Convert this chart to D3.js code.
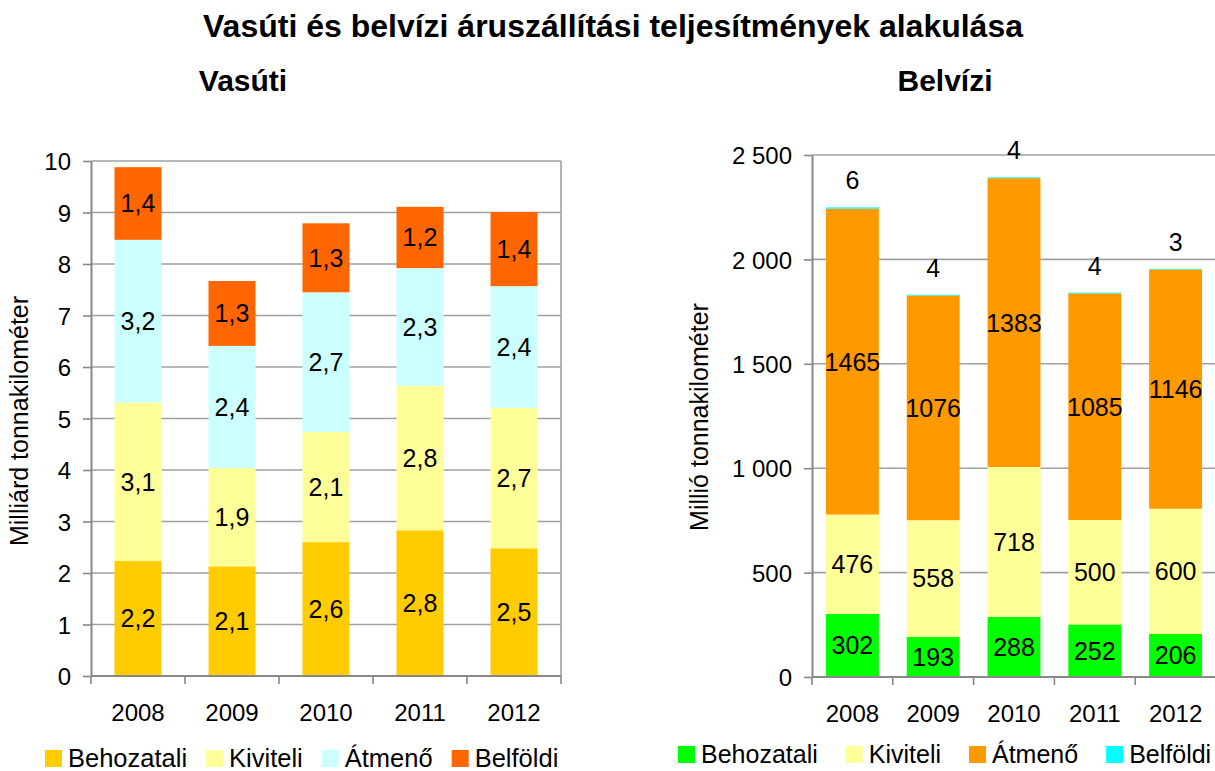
<!DOCTYPE html>
<html>
<head>
<meta charset="utf-8">
<script src="https://cdn.jsdelivr.net/npm/d3@7"></script>
<style>
  html, body { margin: 0; padding: 0; background: #fff; }
  svg { display: block; font-family: "Liberation Sans", Arial, sans-serif; }
</style>
</head>
<body>
<svg id="chart" width="1215" height="771"></svg>
<script>
// ---------- DATA ----------
const years = ["2008", "2009", "2010", "2011", "2012"];
const seriesNames = ["Behozatali", "Kiviteli", "Átmenő", "Belföldi"];

// Vasúti (milliárd tonnakilométer)
const railBehozatali = [2.24, 2.13, 2.60, 2.83, 2.48];
const railKiviteli   = [3.07, 1.91, 2.14, 2.80, 2.73];
const railAtmeno     = [3.16, 2.37, 2.71, 2.29, 2.36];
const railBelfoldi   = [1.41, 1.26, 1.34, 1.19, 1.44];
const railTicks = [0, 1, 2, 3, 4, 5, 6, 7, 8, 9, 10];

// Belvízi (millió tonnakilométer)
const riverBehozatali = [302, 193, 288, 252, 206];
const riverKiviteli   = [476, 558, 718, 500, 600];
const riverAtmeno     = [1465, 1076, 1383, 1085, 1146];
const riverBelfoldi   = [6, 4, 4, 4, 3];
const riverTicks = [0, 500, 1000, 1500, 2000, 2500];

const railColors  = ["#FFCC00", "#FFFF99", "#CCFFFF", "#FF6600"];
const riverColors = ["#00FF00", "#FFFF99", "#FF9900", "#00FFFF"];

const titleText = "Vasúti és belvízi áruszállítási teljesítmények alakulása";
const railTitle = "Vasúti";
const riverTitle = "Belvízi";
const railAxisTitle = "Milliárd tonnakilométer";
const riverAxisTitle = "Millió tonnakilométer";

// ---------- HELPERS ----------
const huLocale = d3.formatLocale({decimal: ",", thousands: "\u00a0", grouping: [3], currency: ["", ""]});
const fmtOneDec = huLocale.format(".1f");
const fmtThousands = huLocale.format(",d");

const svg = d3.select("#chart");
const FONT = "'Liberation Sans', Arial, sans-serif";
const gridColor = "#a0a0a0";
const axisColor = "#888888";

function buildRows(arrs) {
  return years.map((y, i) => {
    const r = {year: y};
    seriesNames.forEach((s, k) => r[s] = arrs[k][i]);
    return r;
  });
}

function drawPanel(cfg) {
  const g = svg.append("g");
  const x = d3.scaleBand().domain(years).range([cfg.left, cfg.right]).padding(0);
  const y = d3.scaleLinear().domain([0, cfg.max]).range([cfg.bottom, cfg.top]);
  const rows = buildRows(cfg.arrays);
  const stacked = d3.stack().keys(seriesNames)(rows);
  const bw = x.bandwidth() * cfg.barFrac;

  // gridlines
  g.append("g").selectAll("line").data(cfg.ticks.filter(t => t > 0)).join("line")
    .attr("x1", cfg.left).attr("x2", cfg.gridRight)
    .attr("y1", d => y(d)).attr("y2", d => y(d))
    .attr("stroke", gridColor).attr("stroke-width", 1.6);

  if (cfg.rightBorder) {
    g.append("line")
      .attr("x1", cfg.right).attr("x2", cfg.right)
      .attr("y1", cfg.top).attr("y2", cfg.bottom)
      .attr("stroke", gridColor).attr("stroke-width", 1.6);
  }

  // bars
  stacked.forEach((layer, k) => {
    g.append("g").selectAll("rect").data(layer).join("rect")
      .attr("x", (d, i) => x(years[i]) + (x.bandwidth() - bw) / 2)
      .attr("width", bw)
      .attr("y", d => y(d[1]))
      .attr("height", d => y(d[0]) - y(d[1]))
      .attr("fill", cfg.colors[k]);
  });

  // data labels
  stacked.forEach((layer, k) => {
    const above = cfg.aboveLast && k === seriesNames.length - 1;
    g.append("g").selectAll("text").data(layer).join("text")
      .attr("x", (d, i) => x(years[i]) + x.bandwidth() / 2)
      .attr("y", d => above ? y(d[1]) - 18 : (y(d[0]) + y(d[1])) / 2)
      .attr("dy", above ? 0 : "0.36em")
      .attr("text-anchor", "middle")
      .attr("font-size", 25)
      .attr("fill", "#000")
      .text(d => cfg.labelFmt(d[1] - d[0]));
  });

  // y axis
  const ya = g.append("g").attr("transform", `translate(${cfg.left},0)`)
    .call(d3.axisLeft(y).tickValues(cfg.ticks).tickSize(8).tickSizeOuter(0).tickPadding(12).tickFormat(cfg.tickFmt));
  ya.select(".domain").attr("stroke", axisColor).attr("stroke-width", 2);
  ya.selectAll(".tick line").attr("stroke", axisColor).attr("stroke-width", 1.6);
  ya.selectAll(".tick text").attr("font-size", 24).attr("font-family", FONT).attr("fill", "#000").attr("dy", "0.36em");

  // x axis
  g.append("line").attr("x1", cfg.left).attr("x2", cfg.gridRight)
    .attr("y1", cfg.bottom).attr("y2", cfg.bottom)
    .attr("stroke", axisColor).attr("stroke-width", 2);
  const bounds = d3.range(years.length + 1).map(i => cfg.left + i * x.step());
  g.append("g").selectAll("line").data(bounds).join("line")
    .attr("x1", d => d).attr("x2", d => d)
    .attr("y1", cfg.bottom).attr("y2", cfg.bottom + 8)
    .attr("stroke", axisColor).attr("stroke-width", 1.6);
  const xa = g.append("g").attr("transform", `translate(0,${cfg.bottom})`)
    .call(d3.axisBottom(x).tickSize(0).tickPadding(0));
  xa.select(".domain").remove();
  xa.selectAll(".tick text").attr("font-size", 24).attr("font-family", FONT).attr("fill", "#000")
    .attr("y", 45).attr("dy", 0);

  // axis title
  g.append("text")
    .attr("transform", `translate(${cfg.axisTitleX},${cfg.axisTitleY}) rotate(-90)`)
    .attr("text-anchor", "middle")
    .attr("font-size", 25)
    .text(cfg.axisTitle);

  // panel title
  g.append("text")
    .attr("x", cfg.titleX).attr("y", 91)
    .attr("text-anchor", "middle")
    .attr("font-size", 30).attr("font-weight", "bold")
    .text(cfg.title);

  // legend
  const lg = g.append("g");
  let cx = cfg.legendX;
  seriesNames.forEach((s, k) => {
    lg.append("rect").attr("x", cx).attr("y", cfg.legendY - 12).attr("width", 17).attr("height", 17)
      .attr("fill", cfg.colors[k]);
    const t = lg.append("text").attr("x", cx + 23).attr("y", cfg.legendY + 5)
      .attr("font-size", cfg.legendFont).text(s);
    cx += 23 + t.node().getComputedTextLength() + cfg.legendGap;
  });
}

// main title
svg.append("text")
  .attr("x", 613).attr("y", 37)
  .attr("text-anchor", "middle")
  .attr("font-size", 32).attr("font-weight", "bold")
  .text(titleText);

drawPanel({
  arrays: [railBehozatali, railKiviteli, railAtmeno, railBelfoldi],
  colors: railColors,
  ticks: railTicks, max: 10,
  left: 91, right: 561, gridRight: 561, top: 161, bottom: 676,
  barFrac: 0.5, rightBorder: true, aboveLast: false,
  labelFmt: v => fmtOneDec(v),
  tickFmt: d => fmtThousands(d),
  axisTitle: railAxisTitle, axisTitleX: 28, axisTitleY: 421,
  title: railTitle, titleX: 243,
  legendX: 45, legendY: 762, legendGap: 19, legendFont: 25.5
});

drawPanel({
  arrays: [riverBehozatali, riverKiviteli, riverAtmeno, riverBelfoldi],
  colors: riverColors,
  ticks: riverTicks, max: 2500,
  left: 812, right: 1216, gridRight: 1215, top: 155, bottom: 677,
  barFrac: 0.655, rightBorder: false, aboveLast: true,
  labelFmt: v => String(Math.round(v)),
  tickFmt: d => fmtThousands(d),
  axisTitle: riverAxisTitle, axisTitleX: 708, axisTitleY: 417,
  title: riverTitle, titleX: 945,
  legendX: 678, legendY: 758, legendGap: 28, legendFont: 25
});
</script>
</body>
</html>
